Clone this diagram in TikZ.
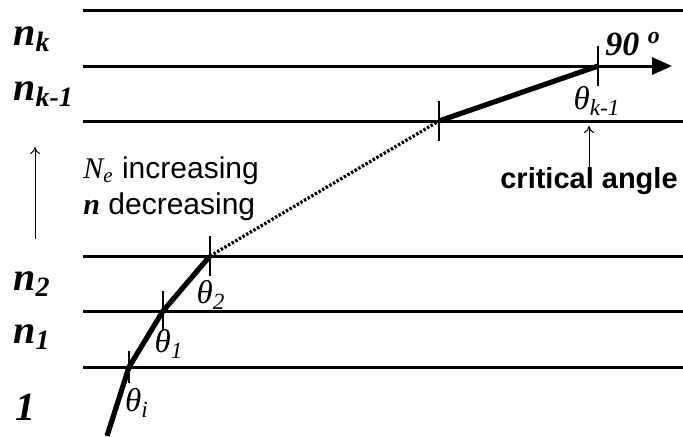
\documentclass[tikz,border=0pt]{standalone}
\usepackage{fontspec}
\setmainfont{Liberation Serif}
\setsansfont{Liberation Sans}
\usetikzlibrary{arrows.meta, positioning}

\begin{document}
\begin{tikzpicture}[
		x=0.5pt, y=-0.5pt,
		capa/.style={
			line width=1.5pt
		},
		rayo/.style={
			line width=2.6pt,
			line join=round
		},
		punteado/.style={
			line width=1.6pt,
			dash pattern=on 1.2pt off 0.9pt
		},
		marca/.style={
			line width=0.9pt
		},
		indice/.style={
			inner sep=0pt,
			anchor=base west,
			font=\fontsize{20}{22}\selectfont\bfseries\itshape
		},
		angulo/.style={
			inner sep=0pt,
			font=\fontsize{16.5}{18}\selectfont\itshape
		},
		texto/.style={
			inner sep=0pt,
			align=left,
			font=\fontsize{15}{18}\selectfont\sffamily
		},
		fl/.style={
			-{To[length=3.5pt,width=5pt]},
			line width=0.5pt
		}
		]
		\useasboundingbox (0,0) rectangle (683,436);
		
		% capas
		\coordinate (c0a) at (83,10);   \coordinate (c0b) at (683,10);
		\coordinate (c1a) at (83,66);   \coordinate (c1b) at (672,66);
		\coordinate (c2a) at (83,121);  \coordinate (c2b) at (683,121);
		\coordinate (c3a) at (83,256);  \coordinate (c3b) at (683,256);
		\coordinate (c4a) at (83,311);  \coordinate (c4b) at (683,311);
		\coordinate (c5a) at (83,367);  \coordinate (c5b) at (683,367);
		
		\draw[capa] (c0a) -- (c0b);
		\draw[capa, -{Triangle[length=10pt,width=8.5pt]}] (c1a) -- (c1b);
		\draw[capa] (c2a) -- (c2b);
		\draw[capa] (c3a) -- (c3b);
		\draw[capa] (c4a) -- (c4b);
		\draw[capa] (c5a) -- (c5b);
		
		% rayo
		\coordinate (p0) at (107,436);
		\coordinate (p1) at (129,367);
		\coordinate (p2) at (163,311);
		\coordinate (p3) at (210,256);
		\coordinate (p4) at (439,121);
		\coordinate (p5) at (598,66);
		
		\draw[rayo] (p0) -- (p1) -- (p2) -- (p3);
		\draw[punteado] (p3) -- (p4);
		\draw[rayo] (p4) -- (p5);
		
		\draw[marca] ([yshift=8pt]p1) -- ([yshift=-8pt]p1);
		\draw[marca] ([yshift=10pt]p2) -- ([yshift=-10pt]p2);
		\draw[marca] ([yshift=10pt]p3) -- ([yshift=-10pt]p3);
		\draw[marca] ([yshift=10pt]p4) -- ([yshift=-10pt]p4);
		\draw[marca] ([yshift=10pt]p5) -- ([yshift=-10pt]p5);
		
		% indices
		\node[indice] (nk) at (13,45) {n\textsubscript{k}};
		\node[indice] (nk1) at (13,100) {n\textsubscript{k-1}};
		\node[indice] (n2) at (13,290) {n\textsubscript{2}};
		\node[indice] (n1) at (13,343) {n\textsubscript{1}};
		\node[indice] (uno) at (15,420) {1};
		
		\coordinate (ab) at (35,239);
		\coordinate (ar) at (35,147);
		\draw[fl] (ab) -- (ar);
		
		\node[texto, anchor=north west] (dir) at (83,156)
		{{\rmfamily\itshape N\textsubscript{e}} increasing\\
			{\rmfamily\bfseries\itshape n} decreasing};
		
		% angulos
		\node[angulo] (ti) at (137,403) {θ\textsubscript{i}};
		\node[angulo] (t1) at (169,344) {θ\textsubscript{1}};
		\node[angulo] (t2) at (211,295) {θ\textsubscript{2}};
		\node[angulo] (tk1) at (597,101) {θ\textsubscript{k-1}};
		
		\node[inner sep=0pt, font=\fontsize{17}{19}\selectfont\bfseries\itshape]
		(noventa) at (633,44) {90 \textsuperscript{o}};
		
		\node[texto, font=\fontsize{14.5}{17}\selectfont\sffamily\bfseries]
		(critico) at (589,181) {critical angle};
		\coordinate (ct) at (589,126);
		\draw[fl] (critico) -- (ct);
		
	\end{tikzpicture}
\end{document}
